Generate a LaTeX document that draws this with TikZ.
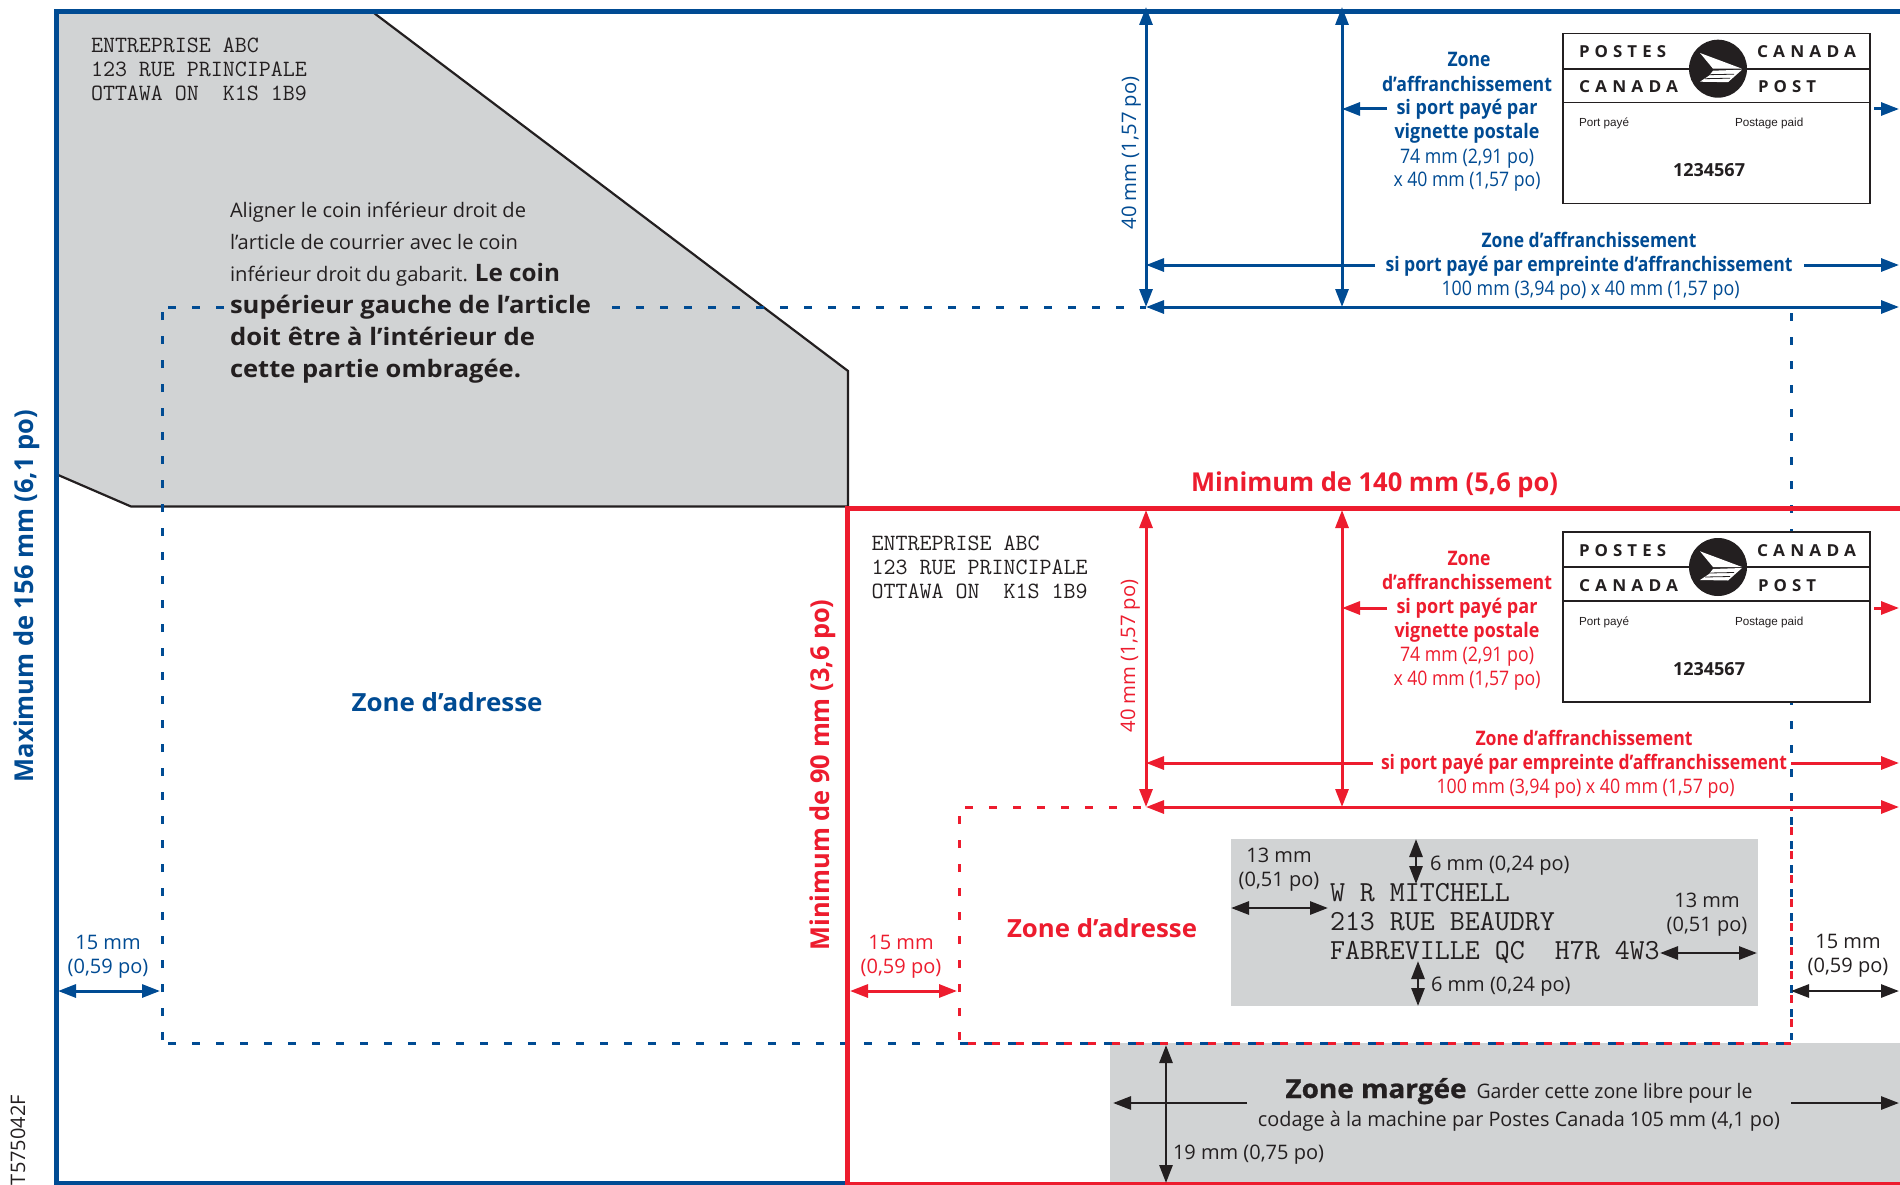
\documentclass[tikz,border=0pt]{standalone}
\usepackage{fontspec}
\usepackage{graphicx}
\usetikzlibrary{arrows.meta}
\setmainfont{Open Sans}
\newfontfamily\arialfont{Liberation Sans}
\definecolor{cpblue}{HTML}{004B93}
\definecolor{cpred}{HTML}{ED1C2E}
\definecolor{cpblack}{HTML}{231F20}
\definecolor{cpgray}{HTML}{D1D3D4}
\newcommand\fs[2]{\fontsize{#1pt}{#2pt}\selectfont}
\newcommand\fw[2]{\resizebox{#1pt}{\height}{#2}}
\tikzset{
  lbl/.style={inner sep=0pt,outer sep=0pt,anchor=base},
  lblw/.style={lbl,anchor=base west},
  multi/.style={lbl,align=center},
  multil/.style={lblw,align=left},
  dim/.style={line width=3pt,{Triangle[length=18pt,width=13pt]}-{Triangle[length=18pt,width=13pt]}},
  dimr/.style={line width=3pt,-{Triangle[length=18pt,width=13pt]}},
  blk/.style={line width=2.8pt,cpblack,{Triangle[length=18pt,width=13pt]}-{Triangle[length=18pt,width=13pt]}},
  blkr/.style={line width=2.8pt,cpblack,-{Triangle[length=18pt,width=13pt]}},
  dashb/.style={cpblue,line width=3pt,dash pattern=on 8pt off 16pt},
  dashr/.style={cpred,line width=3pt,dash pattern=on 8pt off 16pt},
  stamp/.pic={
    \draw[cpblack,fill=white,line width=1.3pt] (0,0) rectangle (307,170);
    \draw[cpblack,line width=2pt] (0,35) -- (307,35);
    \draw[cpblack,line width=1.3pt] (0,69) -- (307,69);
    \fill[cpblack] (155,35) circle (29);
    \fill[white] (137,19.3) -- (179,35) -- (150,35) -- cycle;
    \fill[white] (150,37) -- (179,36) -- (165,48.5) -- (137,48) -- (146,42) -- cycle;
    \draw[cpblack,line width=.8pt] (146,41) -- (171,40.5) (142,45) -- (167,44.5);
    \node[lblw,text=cpblack,font=\fs{16.5}{20}\bfseries] (pa) at (16,24) {\fw{87}{\addfontfeature{LetterSpace=30}POSTES}};
    \node[lblw,text=cpblack,font=\fs{16.5}{20}\bfseries] (pb) at (194,24) {\fw{99}{\addfontfeature{LetterSpace=30}CANADA}};
    \node[lblw,text=cpblack,font=\fs{16.5}{20}\bfseries] (pc) at (16,59) {\fw{99}{\addfontfeature{LetterSpace=30}CANADA}};
    \node[lblw,text=cpblack,font=\fs{16.5}{20}\bfseries] (pd) at (195,59) {\fw{58}{\addfontfeature{LetterSpace=30}POST}};
    \node[lblw,text=cpblack,font=\arialfont\fs{11.7}{14}] (pe) at (16,93) {Port payé};
    \node[lblw,text=cpblack,font=\arialfont\fs{11.7}{14}] (pf) at (172,93) {Postage paid};
    \node[lbl,text=cpblack,font=\fs{18}{20}\bfseries] (pg) at (146,143) {\fw{72}{1234567}};
  }
}
\begin{document}
\begin{tikzpicture}[x=1pt,y=-1pt]
\useasboundingbox (0,0) rectangle (1900,1185);
\fill[white] (0,0) rectangle (1900,1185);
% grey areas
\path[fill=cpgray] (57,14) -- (374,14) -- (848,371) -- (848,506.5) -- (131,506.5) -- (57,474.5) -- cycle;
\draw[cpblack,line width=2.2pt] (374,13) -- (848,371) -- (848,506.5) -- (131,506.5) -- (57,474.5);
\fill[cpgray] (1110,1043) rectangle (1900,1183);
\fill[cpgray] (1231,839) rectangle (1758,1006);
% dashed outlines
\draw[dashb] (168,307) -- (224,307);
\draw[dashb] (612,307) -- (1146,307);
\draw[dashb] (162,1040) -- (162,310);
\draw[dashb] (168,1043) -- (1791,1043);
\draw[dashb] (1791,313) -- (1791,1040);
\draw[dashr] (968,1043) -- (1791,1043);
\draw[dashr,dash phase=4pt] (1791,807) -- (1791,1040);
\draw[dashr] (959,1040) -- (959,810);
\draw[dashr] (965,807) -- (1146,807);
% outer frames
\draw[cpblue,line width=5pt] (1900,12) -- (56,12) -- (56,1183) -- (847,1183);
\draw[cpred,line width=5pt] (1900,508) -- (847,508) -- (847,1185);
\draw[cpred,line width=3pt] (847,1183.5) -- (1900,1183.5);
% stamps
\pic[name prefix=bs-] at (1563,33.7) {stamp};
\pic[name prefix=rs-] at (1563,532) {stamp};
% coordinates
\coordinate (bv1t) at (1146,7);   \coordinate (bv1b) at (1146,307);
\coordinate (bv2t) at (1342,7);   \coordinate (bv2b) at (1342,307);
\coordinate (bh0a) at (1146,307); \coordinate (bh0b) at (1899,307);
\coordinate (bh1a) at (1146,265); \coordinate (bh1b) at (1375,265);
\coordinate (bh1c) at (1804,265); \coordinate (bh1d) at (1899,265);
\coordinate (bh2a) at (1342,109); \coordinate (bh2b) at (1387,109);
\coordinate (bh2c) at (1874,109); \coordinate (bh2d) at (1899,109);
\coordinate (bm1) at (58,991);    \coordinate (bm2) at (160,991);
\coordinate (rv1t) at (1146,510); \coordinate (rv1b) at (1146,807);
\coordinate (rv2t) at (1342,510); \coordinate (rv2b) at (1342,807);
\coordinate (rh0a) at (1146,807); \coordinate (rh0b) at (1899,807);
\coordinate (rh1a) at (1146,763); \coordinate (rh1b) at (1373,763);
\coordinate (rh1c) at (1791,763); \coordinate (rh1d) at (1899,763);
\coordinate (rh2a) at (1342,608); \coordinate (rh2b) at (1387,608);
\coordinate (rh2c) at (1874,608); \coordinate (rh2d) at (1899,608);
\coordinate (rm1) at (850,991);   \coordinate (rm2) at (957,991);
\coordinate (km1) at (1791,991);  \coordinate (km2) at (1899,991);
\coordinate (kt1) at (1416,839);  \coordinate (kt2) at (1416,884);
\coordinate (kb1) at (1418,961);  \coordinate (kb2) at (1418,1006);
\coordinate (kl1) at (1231,908);  \coordinate (kl2) at (1328,908);
\coordinate (kr1) at (1660,953);  \coordinate (kr2) at (1757,953);
\coordinate (kv1) at (1166,1045); \coordinate (kv2) at (1166,1183);
\coordinate (kh1) at (1113,1103); \coordinate (kh2) at (1247,1103);
\coordinate (kh3) at (1791,1103); \coordinate (kh4) at (1899,1103);
% blue dimensions
\begin{scope}[cpblue]
\draw[dim] (bv1t) -- (bv1b);
\draw[dim] (bv2t) -- (bv2b);
\draw[dim] (bh0a) -- (bh0b);
\draw[dimr] (bh1b) -- (bh1a);
\draw[dimr] (bh1c) -- (bh1d);
\draw[dimr] (bh2b) -- (bh2a);
\draw[dimr] (bh2c) -- (bh2d);
\draw[dim] (bm1) -- (bm2);
\end{scope}
% red dimensions
\begin{scope}[cpred]
\draw[dim] (rv1t) -- (rv1b);
\draw[dim] (rv2t) -- (rv2b);
\draw[dim] (rh0a) -- (rh0b);
\draw[dimr] (rh1b) -- (rh1a);
\draw[dimr] (rh1c) -- (rh1d);
\draw[dimr] (rh2b) -- (rh2a);
\draw[dimr] (rh2c) -- (rh2d);
\draw[dim] (rm1) -- (rm2);
\end{scope}
% black dimensions
\draw[blk] (km1) -- (km2);
\draw[blk] (kt1) -- (kt2);
\draw[blk] (kb1) -- (kb2);
\draw[blk] (kl1) -- (kl2);
\draw[blk] (kr1) -- (kr2);
\draw[blk] (kv1) -- (kv2);
\draw[blkr] (kh2) -- (kh1);
\draw[blkr] (kh3) -- (kh4);
% side titles
\node[lbl,rotate=90,text=cpblue,font=\fs{26}{30}\bfseries] (tmax) at (33,596) {\fw{372}{Maximum de 156 mm (6,1 po)}};
\node[lbl,rotate=90,text=cpred,font=\fs{26}{30}\bfseries] (tmin90) at (829,775) {\fw{351}{Minimum de 90 mm (3,6 po)}};
\node[lblw,text=cpred,font=\fs{26}{30}\bfseries] (tmin140) at (1191,491) {\fw{367}{Minimum de 140 mm (5,6 po)}};
\node[lbl,rotate=90,anchor=base east,text=cpblack,font=\fs{20}{24}] (tref) at (25,1095) {T575042F};
% return addresses
\node[multil,text=cpblack,font=\ttfamily\fs{23.3}{24}] (ra1) at (91,101) {ENTREPRISE ABC\\123 RUE PRINCIPALE\\OTTAWA ON~~K1S 1B9};
\node[multil,text=cpblack,font=\ttfamily\fs{23.3}{24}] (ra2) at (871.5,598) {ENTREPRISE ABC\\123 RUE PRINCIPALE\\OTTAWA ON~~K1S 1B9};
% instruction
\node[multil,text=cpblack,font=\fs{20}{32}] (instr) at (230,377) {\fw{296}{Aligner le coin inférieur droit de}\\\fw{288}{l’article de courrier avec le coin}\\\fw{330}{inférieur droit du gabarit. {\fs{24}{32}\bfseries Le coin}}\\\fw{361}{\fs{24}{32}\bfseries supérieur gauche de l’article}\\\fw{305}{\fs{24}{32}\bfseries doit être à l’intérieur de}\\\fw{291}{\fs{24}{32}\bfseries cette partie ombragée.}};
% blue labels
\node[lbl,text=cpblue,font=\fs{25}{30}\bfseries] (bza) at (447,711) {\fw{191}{Zone d’adresse}};
\node[lbl,rotate=90,text=cpblue,font=\fs{20}{24}] (b40) at (1136,153) {\fw{153}{40 mm (1,57 po)}};
\node[multi,text=cpblue,font=\fs{20}{24}] (bv) at (1467,187) {\hspace*{4pt}\fw{43}{\bfseries Zone}\\\fw{170}{\bfseries d’affranchissement}\\\fw{141}{\bfseries si port payé par}\\\fw{145}{\bfseries vignette postale}\\\fw{134}{74 mm (2,91 po)}\\\fw{147}{x 40 mm (1,57 po)}};
\node[multi,text=cpblue,font=\fs{20}{24}] (be) at (1589,295) {\fw{215}{\bfseries Zone d’affranchissement}\\\fw{407}{\bfseries si port payé par empreinte d’affranchissement}\\\hspace*{3pt}\fw{298}{100 mm (3,94 po) x 40 mm (1,57 po)}};
\node[multi,text=cpblue,font=\fs{20}{24}] (b15) at (108,973) {15 mm\\(0,59 po)};
% red labels
\node[lbl,text=cpred,font=\fs{25}{30}\bfseries] (rza) at (1102,937) {\fw{190}{Zone d’adresse}};
\node[lbl,rotate=90,text=cpred,font=\fs{20}{24}] (r40) at (1135,656) {\fw{153}{40 mm (1,57 po)}};
\node[multi,text=cpred,font=\fs{20}{24}] (rv) at (1467,685) {\hspace*{4pt}\fw{43}{\bfseries Zone}\\\fw{170}{\bfseries d’affranchissement}\\\fw{141}{\bfseries si port payé par}\\\fw{145}{\bfseries vignette postale}\\\fw{134}{74 mm (2,91 po)}\\\fw{147}{x 40 mm (1,57 po)}};
\node[multi,text=cpred,font=\fs{20}{24}] (re) at (1584,793) {\fw{217}{\bfseries Zone d’affranchissement}\\\fw{406}{\bfseries si port payé par empreinte d’affranchissement}\\\hspace*{3pt}\fw{298}{100 mm (3,94 po) x 40 mm (1,57 po)}};
\node[multi,text=cpred,font=\fs{20}{24}] (r15) at (901,973) {15 mm\\(0,59 po)};
% black labels
\node[multi,text=cpblack,font=\ttfamily\fs{29.1}{29}] (addr) at (1495,959) {\makebox[330pt][l]{W R MITCHELL}\\\makebox[330pt][l]{213 RUE BEAUDRY}\\\makebox[330pt][l]{FABREVILLE QC~~H7R 4W3}};
\node[multi,text=cpblack,font=\fs{20}{24}] (k13l) at (1279,886) {13 mm\\(0,51 po)};
\node[multi,text=cpblack,font=\fs{20}{24}] (k13r) at (1707,931) {13 mm\\(0,51 po)};
\node[multi,text=cpblack,font=\fs{20}{24}] (k15) at (1848,972) {15 mm\\(0,59 po)};
\node[lblw,text=cpblack,font=\fs{20}{24}] (k6t) at (1430,870) {6 mm (0,24 po)};
\node[lblw,text=cpblack,font=\fs{20}{24}] (k6b) at (1431,991) {6 mm (0,24 po)};
\node[lblw,text=cpblack,font=\fs{20}{24}] (k19) at (1173,1159) {19 mm (0,75 po)};
\node[multi,text=cpblack,font=\fs{20}{28}] (marg) at (1519,1126) {\fw{181}{\fs{26}{28}\bfseries\addfontfeature{FakeBold=1}Zone margée}\hspace{10pt}\fw{276}{Garder cette zone libre pour le}\\\fw{522}{codage à la machine par Postes Canada 105 mm (4,1 po)}};
\end{tikzpicture}
\end{document}
